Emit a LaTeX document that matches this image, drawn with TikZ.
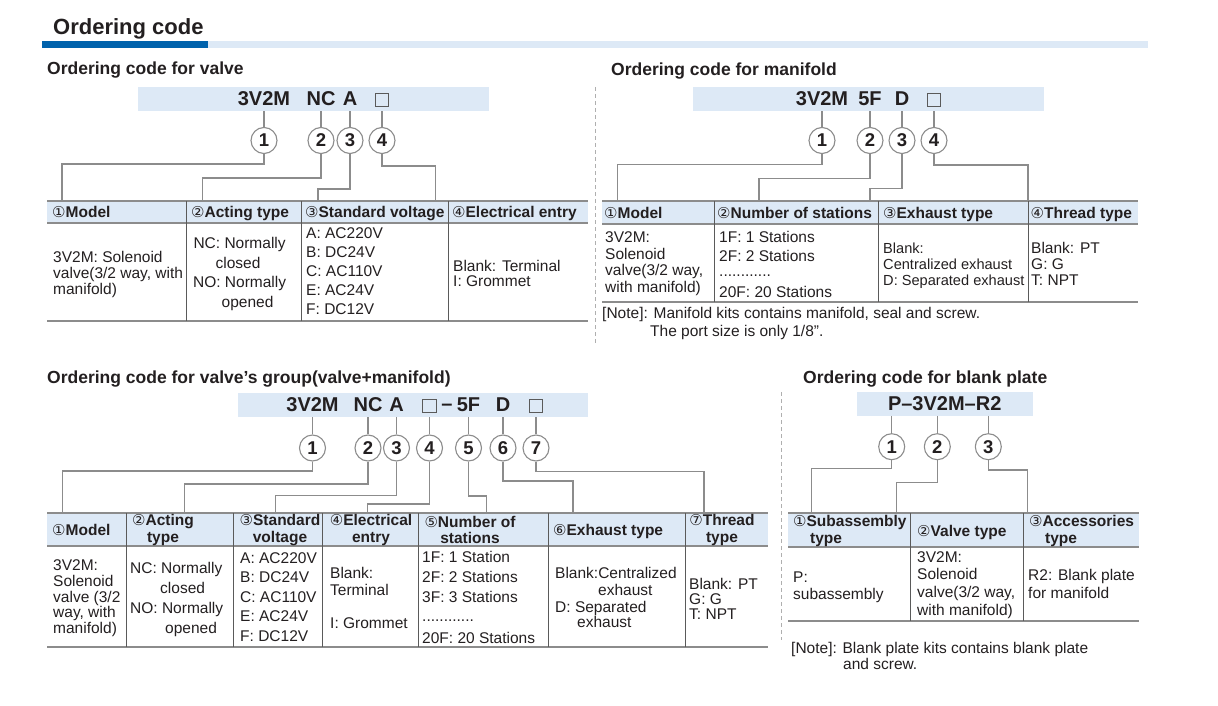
\documentclass[tikz,border=0pt]{standalone}
\usepackage{fontspec}
\setmainfont{Liberation Sans}
\newfontfamily\circfont{DejaVu Sans}
\usetikzlibrary{positioning,calc}
\definecolor{ink}{RGB}{35,31,32}
\definecolor{barblue}{RGB}{0,98,172}
\definecolor{paleblue}{RGB}{221,233,246}
\definecolor{rulegray}{RGB}{140,140,140}
\definecolor{sepgray}{RGB}{90,90,90}
\definecolor{dashgray}{RGB}{175,175,175}
\newcommand{\cnum}[1]{{\circfont\mdseries\fontsize{15}{15}\selectfont#1}}
\tikzset{
  cell/.style={anchor=base west,inner sep=0pt,text=ink,font=\fontsize{15.5}{15.5}\selectfont},
  cellsm/.style={cell,font=\fontsize{14.6}{14.6}\selectfont},
  ccell/.style={cell,anchor=base},
  hcell/.style={anchor=base west,inner sep=0pt,text=ink,font=\bfseries\fontsize{15.5}{15.5}\selectfont},
  hcell2/.style={inner sep=0pt,text=ink,align=center,font=\bfseries\fontsize{15.5}{16.5}\selectfont},
  codepart/.style={inner sep=0pt,minimum height=24pt,text=ink,font=\bfseries\fontsize{20}{20}\selectfont},
  codebox/.style={fill=paleblue,draw=none,inner sep=0pt,minimum height=24pt,text=ink,font=\bfseries\fontsize{20}{20}\selectfont},
  emptybox/.style={draw=sepgray,line width=0.8pt,minimum size=13.5pt,inner sep=0pt},
  num/.style={circle,draw=rulegray,line width=1.1pt,fill=white,minimum size=26pt,inner sep=0pt,text=ink,font=\bfseries\fontsize{18.5}{18.5}\selectfont},
  lead/.style={draw=rulegray,line width=1.1pt},
  rule/.style={draw=rulegray,line width=1.6pt},
  colsep/.style={draw=sepgray,line width=0.8pt},
  divider/.style={draw=dashgray,line width=0.8pt,dash pattern=on 4pt off 3pt},
  subtitle/.style={anchor=base west,inner sep=0pt,text=ink,font=\bfseries\fontsize{17.5}{17.5}\selectfont}
}
\begin{document}
\begin{tikzpicture}[x=1pt,y=-1pt]
\useasboundingbox (0,0) rectangle (1218,706);
% heading
\node[anchor=base west,inner sep=0pt,text=ink,font=\bfseries\fontsize{22}{22}\selectfont] (title) at (53,34.6) {Ordering code};
\fill[barblue] (42,41) rectangle (208,48);
\fill[paleblue] (208,41) rectangle (1148,48);
\draw[divider] (595,87) -- (595,343);
\draw[divider] (781,392) -- (781,640);

% valve
\node[subtitle] (vtitle) at (47,74.6) {Ordering code for valve};
\node[codebox,minimum width=351pt] (vbox) at (313.5,99) {};
\node[codepart] (vc1) at (264,99) {3V2M};
\node[codepart] (vc2) at (321,99) {NC};
\node[codepart] (vc3) at (350,99) {A};
\node[emptybox] (vc4) at (382,100) {};
\coordinate (vrow) at (0,140.5);
\coordinate (vtop) at (0,201);
\foreach \i/\x/\y in {1/62/164,2/202.5/178,3/318/189,4/435.4/166}{
  \node[num] (vn\i) at (vc\i |- vrow) {\i};
  \draw[lead] (vc\i |- vbox.south) -- (vn\i);
  \coordinate (ve\i) at (\x,\y);
  \draw[lead] (vn\i) |- (ve\i) -- (ve\i |- vtop);
}
\fill[paleblue] (47,201) rectangle (588,223);
\draw[rule] (47,201) -- (588,201) (47,223) -- (588,223) (47,321) -- (588,321);
\foreach \x in {186,301,448} \draw[colsep] (\x,201) -- (\x,321);
\foreach \x/\lbl [count=\i] in {52/{\cnum{①}Model},191/{\cnum{②}Acting type},305/{\cnum{③}Standard voltage},452/{\cnum{④}Electrical entry}}
  \node[hcell] (vh\i) at (\x,217) {\lbl};
\foreach \y/\lbl [count=\i] in {262/{3V2M: Solenoid},278/{valve(3/2 way, with},294.5/{manifold)}}
  \node[cell] (vm\i) at (53,\y) {\lbl};
\foreach \x/\y/\lbl [count=\i] in {239.6/248.5/{NC: Normally},238/268/closed,239.6/287.5/{NO: Normally},247.6/307/opened}
  \node[ccell] (va\i) at (\x,\y) {\lbl};
\foreach \lbl [count=\i from 0] in {A: AC220V,B: DC24V,C: AC110V,E: AC24V,F: DC12V}
  \node[cell] (vv\i) at (306,238.5+19*\i) {\lbl};
\node[cell] (ve1txt) at (453,271) {Blank: Terminal};
\node[cell] (ve2txt) at (453,286.5) {I: Grommet};

% manifold
\node[subtitle] (mtitle) at (611,75.3) {Ordering code for manifold};
\node[codebox,minimum width=351pt] (mbox) at (868.5,99) {};
\node[codepart] (mc1) at (822,99) {3V2M};
\node[codepart] (mc2) at (870,99) {5F};
\node[codepart] (mc3) at (902,99) {D};
\node[emptybox] (mc4) at (934,100) {};
\coordinate (mrow) at (0,140.5);
\coordinate (mtop) at (0,201);
\foreach \i/\x/\y in {1/617.5/164.3,2/759/178.3,3/870/188.3,4/1028/165}{
  \node[num] (mn\i) at (mc\i |- mrow) {\i};
  \draw[lead] (mc\i |- mbox.south) -- (mn\i);
  \coordinate (me\i) at (\x,\y);
  \draw[lead] (mn\i) |- (me\i) -- (me\i |- mtop);
}
\fill[paleblue] (602,201) rectangle (1138,224);
\draw[rule] (602,201) -- (1138,201) (602,224) -- (1138,224) (602,302) -- (1138,302);
\foreach \x in {714,878,1028} \draw[colsep] (\x,201) -- (\x,302);
\foreach \x/\lbl [count=\i] in {604/{\cnum{①}Model},717/{\cnum{②}Number of stations},883/{\cnum{③}Exhaust type},1030.5/{\cnum{④}Thread type}}
  \node[hcell] (mh\i) at (\x,218.5) {\lbl};
\foreach \lbl [count=\i from 0] in {3V2M:,Solenoid,{valve(3/2 way,},with manifold)}
  \node[cell] (mm\i) at (605,242.4+16.7*\i) {\lbl};
\foreach \y/\lbl [count=\i] in {242.5/{1F: 1 Stations},261.5/{2F: 2 Stations},276/{............},297.5/{20F: 20 Stations}}
  \node[cell] (ms\i) at (719,\y) {\lbl};
\foreach \lbl [count=\i from 0] in {Blank:,Centralized exhaust,D: Separated exhaust}
  \node[cellsm] (mx\i) at (883,253.4+16*\i) {\lbl};
\foreach \lbl [count=\i from 0] in {Blank: PT,G: G,T: NPT}
  \node[cell] (mt\i) at (1031,253.4+16*\i) {\lbl};
\node[cell] (mnote1) at (602,318.7) {[Note]: Manifold kits contains manifold, seal and screw.};
\node[cell] (mnote2) at (650,336.4) {The port size is only 1/8\symbol{34}.};

% valve's group
\node[subtitle] (gtitle) at (47,383) {Ordering code for valve’s group(valve+manifold)};
\node[codebox,minimum width=350pt] (gbox) at (412.5,405) {};
\node[codepart] (gc1) at (312.5,405) {3V2M};
\node[codepart] (gc2) at (368,405) {NC};
\node[codepart] (gc3) at (396.5,405) {A};
\node[emptybox] (gc4) at (429.5,406) {};
\node[codepart] (gdash) at (447,407) {–};
\node[codepart] (gc5) at (468.5,405) {5F};
\node[codepart] (gc6) at (503,405) {D};
\node[emptybox] (gc7) at (536,406) {};
\coordinate (grow) at (0,448);
\coordinate (gtop) at (0,513);
\foreach \i/\x/\y in {1/62.5/471,2/184.6/484,3/275.7/495.7,4/367.5/504,5/486.4/496,6/573/481,7/704/471.5}{
  \node[num] (gn\i) at (gc\i |- grow) {\i};
  \draw[lead] (gc\i |- gbox.south) -- (gn\i);
  \coordinate (ge\i) at (\x,\y);
  \draw[lead] (gn\i) |- (ge\i) -- (ge\i |- gtop);
}
\fill[paleblue] (47,513) rectangle (768,546);
\draw[rule] (47,513) -- (768,513) (47,546) -- (768,546) (47,647) -- (768,647);
\foreach \x in {126,233,322,418,548,685} \draw[colsep] (\x,513) -- (\x,647);
\node[hcell] (gh1) at (52,535.5) {\cnum{①}Model};
\node[hcell2] (gh2) at (163,530) {\cnum{②}Acting\\type};
\node[hcell2] (gh3) at (280,530) {\cnum{③}Standard\\voltage};
\node[hcell2] (gh4) at (371,530) {\cnum{④}Electrical\\entry};
\node[hcell2] (gh5) at (470,530) {\cnum{⑤}Number of\\stations};
\node[hcell] (gh6) at (553,535.5) {\cnum{⑥}Exhaust type};
\node[hcell2] (gh7) at (722,530) {\cnum{⑦}Thread\\type};
\foreach \lbl [count=\i from 0] in {3V2M:,Solenoid,valve (3/2,{way, with},manifold)}
  \node[cell] (gm\i) at (53,570.4+15.8*\i) {\lbl};
\foreach \x/\y/\lbl [count=\i] in {130/573.4/{NC: Normally},160/593.4/closed,130/613.4/{NO: Normally},165/633.4/opened}
  \node[cell] (ga\i) at (\x,\y) {\lbl};
\foreach \lbl [count=\i from 0] in {A: AC220V,B: DC24V,C: AC110V,E: AC24V,F: DC12V}
  \node[cell] (gv\i) at (240,563.4+19.5*\i) {\lbl};
\foreach \y/\lbl [count=\i] in {578.4/Blank:,595.4/Terminal,628/I: Grommet}
  \node[cell] (gl\i) at (330,\y) {\lbl};
\foreach \y/\lbl [count=\i] in {562.4/{1F: 1 Station},582.4/{2F: 2 Stations},602.4/{3F: 3 Stations},621/{............},643/{20F: 20 Stations}}
  \node[cell] (gs\i) at (422,\y) {\lbl};
\foreach \x/\y/\lbl [count=\i] in {555/578.7/{Blank:Centralized},598/595.4/exhaust,555/612/{D: Separated},577/627/exhaust}
  \node[cell] (gx\i) at (\x,\y) {\lbl};
\foreach \lbl [count=\i from 0] in {Blank: PT,G: G,T: NPT}
  \node[cell] (gt\i) at (689,589.4+15*\i) {\lbl};

% blank plate
\node[subtitle] (btitle) at (803,383) {Ordering code for blank plate};
\node[codebox,minimum width=176pt,minimum height=23.5pt] (bbox) at (944.7,404) {P–3V2M–R2};
\coordinate (btop) at (0,513);
\foreach \i/\cx/\x/\y in {1/891.7/811.7/468.3,2/937.3/896.7/482.7,3/988.3/1027.3/470}{
  \node[num] (bn\i) at (\cx,446.7) {\i};
  \draw[lead] (bn\i |- bbox.south) -- (bn\i);
  \coordinate (be\i) at (\x,\y);
  \draw[lead] (bn\i) |- (be\i) -- (be\i |- btop);
}
\fill[paleblue] (788,513) rectangle (1139,547);
\draw[rule] (788,513) -- (1139,513) (788,547) -- (1139,547) (788,621) -- (1139,621);
\foreach \x in {910,1023} \draw[colsep] (\x,513) -- (\x,621);
\node[hcell] (bh1) at (793,526.5) {\cnum{①}Subassembly};
\node[hcell] (bh1b) at (810,543) {type};
\node[hcell] (bh2) at (917,536.5) {\cnum{②}Valve type};
\node[hcell] (bh3) at (1029,526.5) {\cnum{③}Accessories};
\node[hcell] (bh3b) at (1045,543) {type};
\node[cell] (bp1) at (793,582) {P:};
\node[cell] (bp2) at (793,599) {subassembly};
\foreach \lbl [count=\i from 0] in {3V2M:,Solenoid,{valve(3/2 way,},with manifold)}
  \node[cell] (bv\i) at (917,562+17.8*\i) {\lbl};
\node[cell] (br1) at (1028,580.4) {R2: Blank plate};
\node[cell] (br2) at (1028,598) {for manifold};
\node[cell] (bnote1) at (791,653.7) {[Note]: Blank plate kits contains blank plate};
\node[cell] (bnote2) at (843,669.7) {and screw.};
\end{tikzpicture}
\end{document}
